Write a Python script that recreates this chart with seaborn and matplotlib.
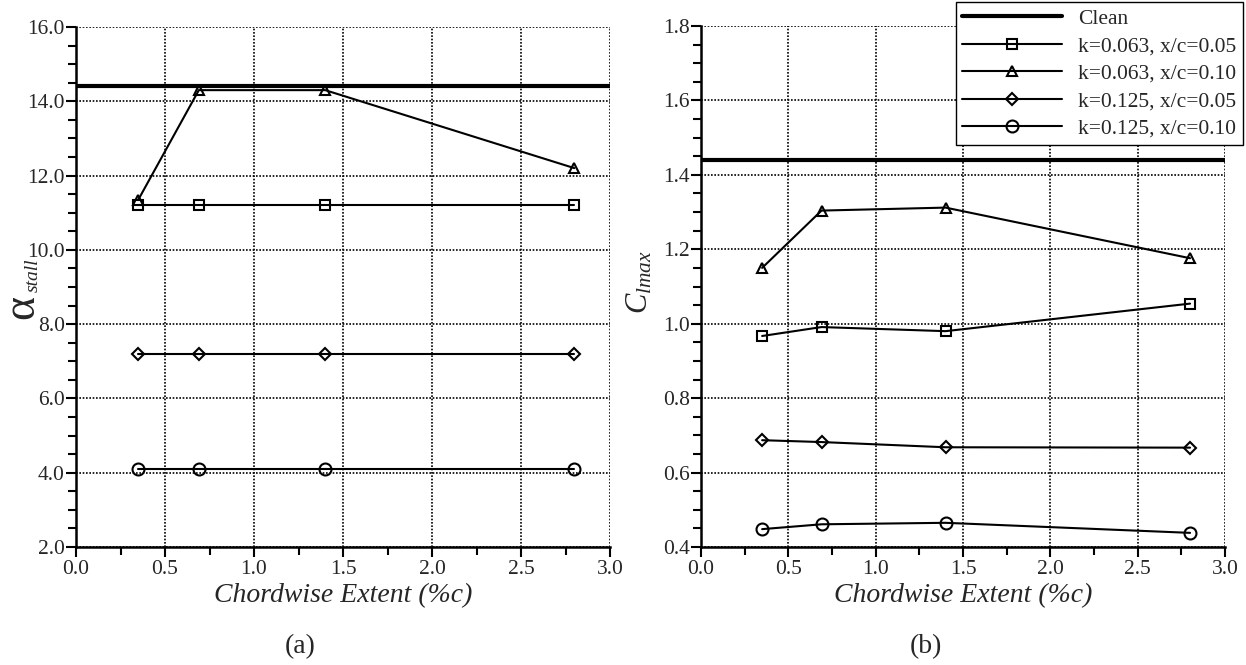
import numpy as np
import pandas as pd
import matplotlib
matplotlib.use("Agg")
import matplotlib.pyplot as plt
import seaborn as sns
from matplotlib.ticker import MultipleLocator, FormatStrFormatter

sns.set_theme(style="white")
plt.rcParams['font.family'] = ['Liberation Serif', 'DejaVu Serif']
plt.rcParams['mathtext.fontset'] = 'custom'
plt.rcParams['mathtext.rm'] = 'Liberation Serif'
plt.rcParams['mathtext.it'] = 'Liberation Serif:italic'

extent = [0.35, 0.69, 1.4, 2.8]
labels = ["k=0.063, x/c=0.05", "k=0.063, x/c=0.10", "k=0.125, x/c=0.05", "k=0.125, x/c=0.10"]
markers = ["s", "^", "D", "o"]
marker_sizes = [7.2, 7.6, 6.2, 8.6]

alpha_clean = 14.4
alpha_stall = [
    [11.2, 11.2, 11.2, 11.2],
    [11.35, 14.3, 14.3, 12.2],
    [7.2, 7.2, 7.2, 7.2],
    [4.1, 4.1, 4.1, 4.1],
]
cl_clean = 1.44
cl_max = [
    [0.967, 0.991, 0.980, 1.054],
    [1.150, 1.304, 1.312, 1.176],
    [0.687, 0.682, 0.668, 0.667],
    [0.448, 0.461, 0.465, 0.438],
]

W, H = 1246, 665
fig = plt.figure(figsize=(W / 100, H / 100), dpi=100)
ax1 = fig.add_axes([76 / W, (H - 547) / H, (610 - 76) / W, (547 - 27) / H])
ax2 = fig.add_axes([701 / W, (H - 547) / H, (1225 - 701) / W, (547 - 26) / H])


def draw(ax, clean, series, ylim, major, minor):
    ax.axhline(clean, color="black", lw=3, label="Clean", zorder=3)
    for vals, lab, m, ms in zip(series, labels, markers, marker_sizes):
        df = pd.DataFrame({"x": extent, "y": vals})
        sns.lineplot(data=df, x="x", y="y", ax=ax, color="black", lw=1.5,
                     marker=m, markersize=ms, markerfacecolor="none",
                     markeredgecolor="black", markeredgewidth=1.5, label=lab,
                     zorder=4, clip_on=False)
    ax.set_xlim(0, 3.0)
    ax.set_ylim(*ylim)
    ax.xaxis.set_major_locator(MultipleLocator(0.5))
    ax.xaxis.set_minor_locator(MultipleLocator(0.25))
    ax.yaxis.set_major_locator(MultipleLocator(major))
    ax.yaxis.set_minor_locator(MultipleLocator(minor))
    ax.xaxis.set_major_formatter(FormatStrFormatter("%.1f"))
    ax.yaxis.set_major_formatter(FormatStrFormatter("%.1f"))
    ax.grid(True, which="major", color="black", linestyle=(0, (1, 1)), lw=1.2)
    for s in ["top", "right"]:
        ax.spines[s].set_visible(False)
    for s in ["left", "bottom"]:
        ax.spines[s].set_color("black")
        ax.spines[s].set_linewidth(1.8)
    ax.tick_params(which="major", direction="out", length=7, width=1.5,
                   color="black", labelsize=15.5, pad=1, left=True, bottom=True)
    ax.tick_params(axis="x", which="major", pad=2.5)
    ax.tick_params(which="minor", direction="out", length=5.5, width=1.5,
                   color="black", left=True, bottom=True)
    ax.set_xlabel("Chordwise Extent (%c)", fontsize=20, style="italic", labelpad=3)
    ax.set_ylabel("")


draw(ax1, alpha_clean, alpha_stall, (2.0, 16.0), 2.0, 0.5)
draw(ax2, cl_clean, cl_max, (0.4, 1.8), 0.2, 0.05)

# y-axis titles (alpha with italic subscript; C with italic subscript)
fig.text(33 / W, 1 - 319 / H, "α", fontsize=33, rotation=90, rotation_mode="anchor",
         ha="left", va="baseline")
fig.text(38 / W, 1 - 292 / H, "stall", fontsize=14, style="italic", rotation=90,
         rotation_mode="anchor", ha="left", va="baseline")
fig.text(640 / W, 1 - 282 / H, r"$\mathit{C}_{\mathit{lmax}}$", fontsize=22, rotation=90,
         ha="center", va="center")

ax1.get_legend().remove()
handles, labs = ax2.get_legend_handles_labels()
ax2.get_legend().remove()
leg = fig.legend(handles, labs, loc="upper right", bbox_to_anchor=(1243 / W, 1 - 2 / H),
                 bbox_transform=fig.transFigure, fontsize=15.5, frameon=True,
                 fancybox=False, edgecolor="black", handlelength=4.65, handletextpad=0.75,
                 labelspacing=0.35, borderpad=0.3, borderaxespad=0)
leg.get_frame().set_linewidth(1.0)
leg.get_frame().set_alpha(1.0)
leg.set_zorder(10)

fig.text(300 / W, 1 - 647 / H, "(a)", fontsize=20, ha="center", va="center")
fig.text(926 / W, 1 - 647 / H, "(b)", fontsize=20, ha="center", va="center")

fig.savefig("out.png", dpi=100)
